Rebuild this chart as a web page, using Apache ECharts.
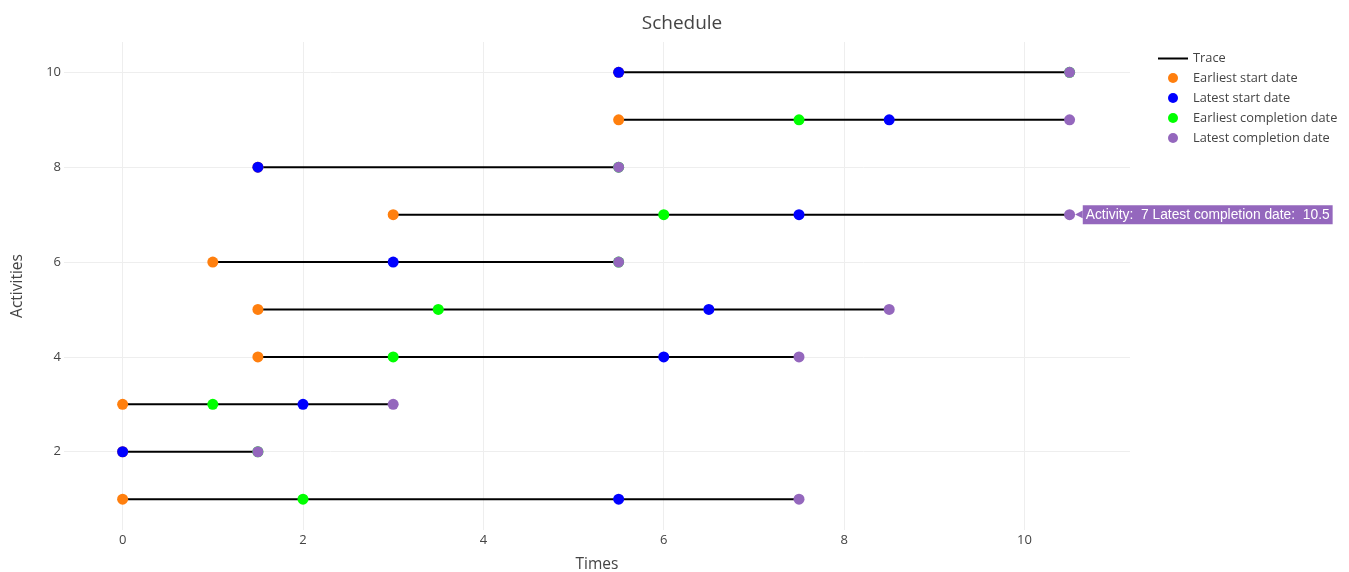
<!DOCTYPE html>
<html>
<head>
<meta charset="utf-8">
<script src="https://cdn.jsdelivr.net/npm/echarts@6/dist/echarts.min.js"></script>
<style>html,body{margin:0;padding:0;background:#fff;overflow:hidden}#c{width:1349px;height:572px}</style>
</head>
<body>
<div id="c"></div>
<script>
const activities = [1, 2, 3, 4, 5, 6, 7, 8, 9, 10];
const earliestStart = [0, 0, 0, 1.5, 1.5, 1, 3, 1.5, 5.5, 5.5];
const latestStart = [5.5, 0, 2, 6, 6.5, 3, 7.5, 1.5, 8.5, 5.5];
const earliestCompletion = [2, 1.5, 1, 3, 3.5, 5.5, 6, 5.5, 7.5, 10.5];
const latestCompletion = [7.5, 1.5, 3, 7.5, 8.5, 5.5, 10.5, 5.5, 10.5, 10.5];
const xTicks = [0, 2, 4, 6, 8, 10];
const yTicks = [2, 4, 6, 8, 10];
const hoverActivity = 7;

const FONT = '"Open Sans", verdana, arial, sans-serif';
const TXT = '#444';
const PURPLE = '#9467bd';
const DOT = 'path://M0,2 A5,5 0 1 1 0,12 A5,5 0 1 1 0,2 Z M-15,0 L-15,0 M15,14 L15,14';

const traceSeries = activities.map((a, i) => ({
  name: 'Trace', type: 'line', symbol: 'none', silent: true,
  lineStyle: { color: '#000', width: 2 }, itemStyle: { color: '#000' },
  data: [[Math.min(earliestStart[i], latestStart[i]), a], [latestCompletion[i], a]],
  z: 1
}));

function pts(vals) { return activities.map((a, i) => [vals[i], a]); }
function scatter(name, color, vals) {
  return {
    name, type: 'scatter', symbolSize: 11, itemStyle: { color, opacity: 1 },
    data: pts(vals), z: 3
  };
}

const lcData = activities.map((a, i) => {
  const d = { value: [latestCompletion[i], a] };
  if (a === hoverActivity) {
    d.label = {
      show: true, position: 'right', distance: 0,
      formatter: '{a|◀}{b|Activity:  ' + a + ' Latest completion date:  ' + latestCompletion[i] + '}',
      rich: {
        a: { color: PURPLE, fontSize: 10, fontFamily: '"DejaVu Sans", sans-serif', padding: [0, 0, 1, 0] },
        b: {
          color: '#fff', backgroundColor: PURPLE, fontFamily: 'Arial, "Liberation Sans", sans-serif',
          fontSize: 13.8, padding: [3, 3, 2, 3], lineHeight: 14
        }
      }
    };
  }
  return d;
});

const chart = echarts.init(document.getElementById('c'), null, { renderer: 'canvas' });
chart.setOption({
  animation: false,
  textStyle: { fontFamily: FONT },
  title: {
    text: 'Schedule', left: 677, top: 9, textAlign: 'center',
    textStyle: { fontFamily: FONT, fontSize: 19, fontWeight: 'normal', color: TXT }
  },
  legend: {
    left: 1153, top: 47, orient: 'vertical', itemGap: 6, itemWidth: 30, itemHeight: 14,
    textStyle: { fontFamily: FONT, fontSize: 12.8, color: TXT },
    data: [
      { name: 'Trace', icon: 'path://M0,6 L30,6 L30,8 L0,8 Z', itemStyle: { color: '#000' } },
      { name: 'Earliest start date', icon: DOT },
      { name: 'Latest start date', icon: DOT },
      { name: 'Earliest completion date', icon: DOT },
      { name: 'Latest completion date', icon: DOT }
    ]
  },
  grid: { left: 64, right: 219, top: 42, bottom: 42, containLabel: false, outerBoundsMode: 'none' },
  xAxis: {
    type: 'value', min: -0.65, max: 11.17,
    name: 'Times', nameLocation: 'middle', nameGap: 27,
    nameTextStyle: { fontFamily: FONT, fontSize: 15.5, color: TXT },
    axisLine: { show: false }, axisTick: { show: false, customValues: xTicks },
    axisLabel: { customValues: xTicks, margin: 4, fontFamily: FONT, fontSize: 13, color: TXT },
    splitLine: { show: true, lineStyle: { color: '#eee', width: 1 } }
  },
  yAxis: {
    type: 'value', min: 0.35, max: 10.64,
    name: 'Activities', nameLocation: 'middle', nameGap: 38,
    nameTextStyle: { fontFamily: FONT, fontSize: 15.5, color: TXT },
    axisLine: { show: false }, axisTick: { show: false, customValues: yTicks },
    axisLabel: { customValues: yTicks, margin: 3, fontFamily: FONT, fontSize: 13, color: TXT },
    splitLine: { show: true, lineStyle: { color: '#eee', width: 1 } }
  },
  series: traceSeries.concat([
    scatter('Earliest start date', '#ff7f0e', earliestStart),
    scatter('Latest start date', '#0000ff', latestStart),
    scatter('Earliest completion date', '#00ff00', earliestCompletion),
    Object.assign(scatter('Latest completion date', PURPLE, latestCompletion), { data: lcData })
  ])
});
</script>
</body>
</html>
